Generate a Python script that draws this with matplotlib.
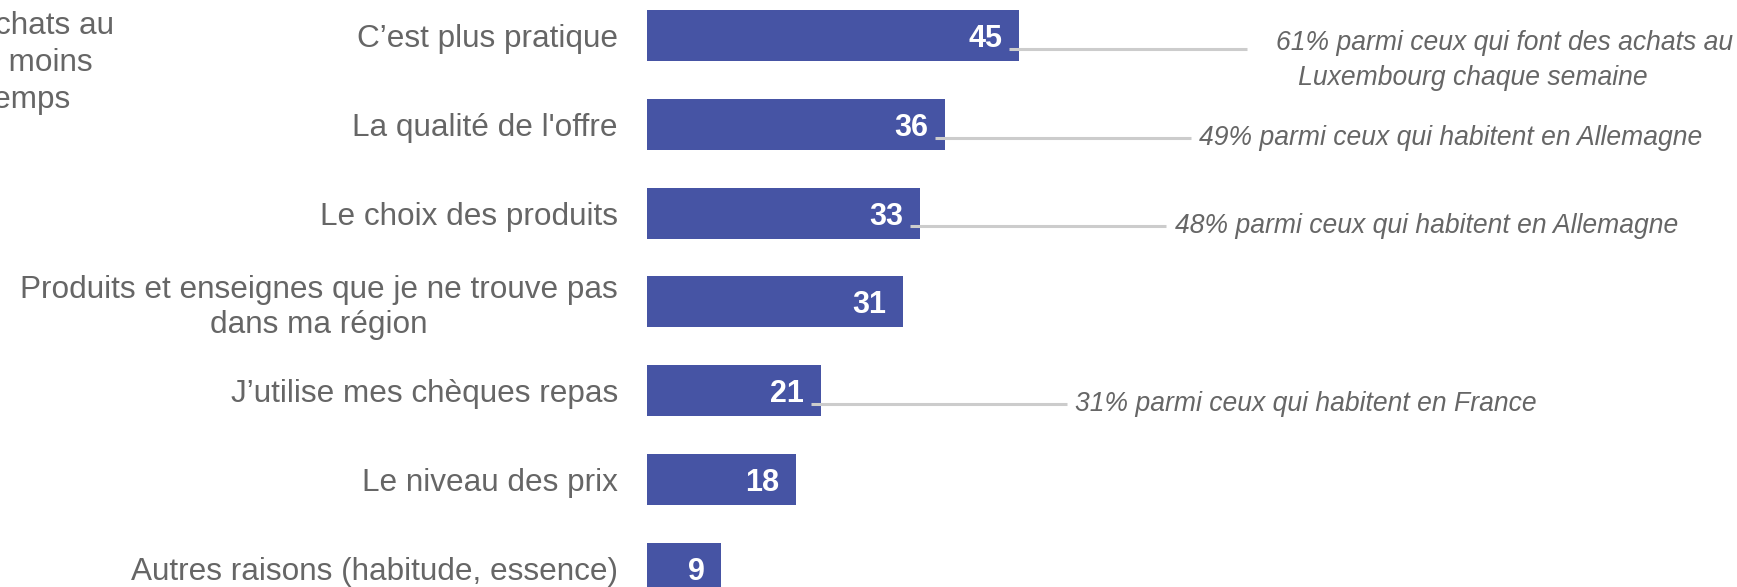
from matplotlib import pyplot as plt

plt.rcParams['font.family'] = ['Liberation Sans', 'DejaVu Sans']

reasons = [
    'C\u2019est plus pratique',
    "La qualité de l'offre",
    'Le choix des produits',
    'Produits et enseignes que je ne trouve pas\ndans ma région',
    'J\u2019utilise mes chèques repas',
    'Le niveau des prix',
    'Autres raisons (habitude, essence)',
]
shares = [45, 36, 33, 31, 21, 18, 9]

# side notes: bar index -> text
note_rows = [0, 1, 2, 4]
note_texts = [
    '61% parmi ceux qui font des achats au\n   Luxembourg chaque semaine',
    '49% parmi ceux qui habitent en Allemagne',
    '48% parmi ceux qui habitent en Allemagne',
    '31% parmi ceux qui habitent en France',
]
note_lengths = [28.8, 31, 31, 31]

bar_color = '#4654a4'
text_color = '#666666'
leader_color = '#cccccc'

W, H = 1737, 587
fig = plt.figure(figsize=(W / 100, H / 100), dpi=100)
left = 647 / W
ax = fig.add_axes([left, 0, 1 - left, 1])

rows = list(range(len(reasons)))
ax.barh(rows, shares, height=0.574, color=bar_color)
ax.set_xlim(0, (W - 647) / 8.27)
ax.set_ylim(6.21, -0.40)

for i, v in zip(rows, shares):
    ax.text(v - 2.05, i + 0.04, str(v), ha='right', va='center', color='white',
            fontsize=22, fontweight='bold')

for i, txt, length in zip(note_rows, note_texts, note_lengths):
    v = shares[i]
    y = i + 0.15
    x0, x1 = v - 1.2, v - 1.2 + length
    ax.plot([x0, x1], [y, y], color=leader_color, lw=2.2, solid_capstyle='butt',
            zorder=3)
    two_lines = '\n' in txt
    ax.text(x1 + (3.5 if two_lines else 1.0), y + (0.13 if two_lines else 0),
            txt, ha='left', va='center', color=text_color, fontsize=19.1,
            style='italic', linespacing=1.45)

ax.set_yticks(rows)
ax.set_yticklabels(reasons, fontsize=22.7, color=text_color)
for lab in ax.get_yticklabels():
    lab.set_multialignment('center')
    lab.set_linespacing(1.2)
ax.tick_params(axis='y', length=0, pad=21)
ax.set_xticks([])
for spine in ax.spines.values():
    spine.set_visible(False)

# base note on the left, partly outside the canvas
fig.text(-63.5 / W, 1 - 63 / H,
         'Base : font des achats au\nLuxembourg au moins\nde temps en temps',
         ha='center', va='center', multialignment='center',
         fontsize=22.7, color=text_color, linespacing=1.3)

fig.savefig('out.png', dpi=100)
